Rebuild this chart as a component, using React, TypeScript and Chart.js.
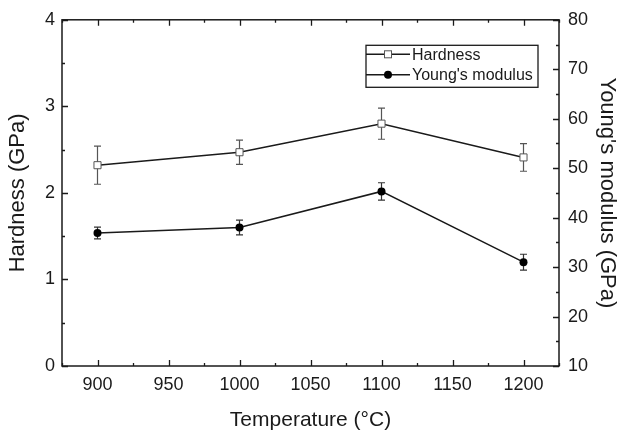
import React, { useEffect, useRef } from "react";
import { Chart, registerables } from "chart.js";

Chart.register(...registerables);

const temperatures = [900, 1000, 1100, 1200];
const hardness = [2.32, 2.47, 2.8, 2.41];
const hardnessErr = [0.22, 0.14, 0.18, 0.16];
const modulus = [36.9, 38.0, 45.3, 31.0];
const modulusErr = [1.2, 1.5, 1.75, 1.6];

const xTicks = [900, 950, 1000, 1050, 1100, 1150, 1200];
const xMinorTicks = [875, 925, 975, 1025, 1075, 1125, 1175, 1225];
const leftTicks = [0, 1, 2, 3, 4];
const leftMinorTicks = [0.5, 1.5, 2.5, 3.5];
const rightTicks = [10, 20, 30, 40, 50, 60, 70, 80];
const rightMinorTicks = [15, 25, 35, 45, 55, 65, 75];

const seriesLabels = ["Hardness", "Young's modulus"];
const FONT = "'Liberation Sans', Arial, Helvetica, sans-serif";
const INK = "#1a1a1a";

const framePlugin = {
  id: "frameTicks",
  afterDatasetsDraw(chart: any) {
    const { ctx, chartArea, scales } = chart;
    const { left, right, top, bottom } = chartArea;
    ctx.save();
    ctx.strokeStyle = INK;
    ctx.lineWidth = 1.5;
    ctx.strokeRect(left, top, right - left, bottom - top);
    ctx.lineWidth = 1.3;
    const major = 6;
    const minor = 3;
    ctx.beginPath();
    const xs = scales.x;
    xTicks.forEach((v) => {
      const px = Math.round(xs.getPixelForValue(v)) + 0.5;
      ctx.moveTo(px, bottom); ctx.lineTo(px, bottom - major);
      ctx.moveTo(px, top); ctx.lineTo(px, top + major);
    });
    xMinorTicks.forEach((v) => {
      const px = Math.round(xs.getPixelForValue(v)) + 0.5;
      ctx.moveTo(px, bottom); ctx.lineTo(px, bottom - minor);
      ctx.moveTo(px, top); ctx.lineTo(px, top + minor);
    });
    const yl = scales.y;
    leftTicks.forEach((v) => {
      const py = Math.round(yl.getPixelForValue(v)) + 0.5;
      ctx.moveTo(left, py); ctx.lineTo(left + major, py);
    });
    leftMinorTicks.forEach((v) => {
      const py = Math.round(yl.getPixelForValue(v)) + 0.5;
      ctx.moveTo(left, py); ctx.lineTo(left + minor, py);
    });
    const yr = scales.y1;
    rightTicks.forEach((v) => {
      const py = Math.round(yr.getPixelForValue(v)) + 0.5;
      ctx.moveTo(right, py); ctx.lineTo(right - major, py);
    });
    rightMinorTicks.forEach((v) => {
      const py = Math.round(yr.getPixelForValue(v)) + 0.5;
      ctx.moveTo(right, py); ctx.lineTo(right - minor, py);
    });
    ctx.stroke();
    ctx.restore();
  },
};

const errorBarPlugin = {
  id: "errorBars",
  beforeDatasetsDraw(chart: any) {
    const { ctx, scales } = chart;
    const sets = [
      { vals: hardness, errs: hardnessErr, scale: scales.y, color: "#555" },
      { vals: modulus, errs: modulusErr, scale: scales.y1, color: "#333" },
    ];
    ctx.save();
    ctx.lineWidth = 1.2;
    sets.forEach((s) => {
      ctx.strokeStyle = s.color;
      ctx.beginPath();
      temperatures.forEach((t, i) => {
        const x = scales.x.getPixelForValue(t);
        const yTop = s.scale.getPixelForValue(s.vals[i] + s.errs[i]);
        const yBot = s.scale.getPixelForValue(s.vals[i] - s.errs[i]);
        ctx.moveTo(x, yTop); ctx.lineTo(x, yBot);
        ctx.moveTo(x - 3.5, yTop); ctx.lineTo(x + 3.5, yTop);
        ctx.moveTo(x - 3.5, yBot); ctx.lineTo(x + 3.5, yBot);
      });
      ctx.stroke();
    });
    ctx.restore();
  },
};

const legendPlugin = {
  id: "customLegend",
  afterDraw(chart: any) {
    const { ctx, chartArea } = chart;
    const bx = chartArea.right - 193;
    const by = chartArea.top + 25.5;
    const bw = 172;
    const bh = 42;
    ctx.save();
    ctx.fillStyle = "#fff";
    ctx.fillRect(bx, by, bw, bh);
    ctx.strokeStyle = INK;
    ctx.lineWidth = 1.3;
    ctx.strokeRect(bx, by, bw, bh);
    ctx.font = `16px ${FONT}`;
    ctx.textBaseline = "middle";
    ctx.textAlign = "left";
    seriesLabels.forEach((label, i) => {
      const ry = by + 9 + i * 20.5;
      ctx.strokeStyle = INK;
      ctx.lineWidth = 1.4;
      ctx.beginPath();
      ctx.moveTo(bx, ry);
      ctx.lineTo(bx + 44, ry);
      ctx.stroke();
      const mx = bx + 22;
      if (i === 0) {
        ctx.fillStyle = "#fff";
        ctx.fillRect(mx - 3.5, ry - 3.5, 7, 7);
        ctx.strokeStyle = "#555";
        ctx.lineWidth = 1;
        ctx.strokeRect(mx - 3.5, ry - 3.5, 7, 7);
      } else {
        ctx.fillStyle = "#000";
        ctx.beginPath();
        ctx.arc(mx, ry, 4, 0, Math.PI * 2);
        ctx.fill();
      }
      ctx.fillStyle = INK;
      ctx.fillText(label, bx + 46, ry + 1);
    });
    ctx.restore();
  },
};

export default function App() {
  const canvasRef = useRef<HTMLCanvasElement | null>(null);

  useEffect(() => {
    document.body.style.margin = "0";
    const canvas = canvasRef.current;
    if (!canvas) return;
    const tickFont = { family: FONT, size: 18 };
    const plain = (v: any) => String(v);
    const chart = new Chart(canvas, {
      type: "line",
      data: {
        datasets: [
          {
            label: seriesLabels[0],
            data: temperatures.map((t, i) => ({ x: t, y: hardness[i] })),
            yAxisID: "y",
            borderColor: INK,
            borderWidth: 1.5,
            pointStyle: "rect",
            pointRadius: 5,
            pointBackgroundColor: "#fff",
            pointBorderColor: "#555",
            pointBorderWidth: 1,
            tension: 0,
          },
          {
            label: seriesLabels[1],
            data: temperatures.map((t, i) => ({ x: t, y: modulus[i] })),
            yAxisID: "y1",
            borderColor: INK,
            borderWidth: 1.5,
            pointStyle: "circle",
            pointRadius: 4,
            pointBackgroundColor: "#000",
            pointBorderColor: "#000",
            pointBorderWidth: 0,
            tension: 0,
          },
        ],
      },
      options: {
        responsive: false,
        animation: false,
        layout: { padding: { top: 16, left: 0, right: 0, bottom: 0 } },
        plugins: {
          legend: { display: false },
          tooltip: { enabled: false },
        },
        scales: {
          x: {
            type: "linear",
            position: "bottom",
            min: 875,
            max: 1225,
            grid: { display: false, drawTicks: false },
            border: { display: false },
            afterBuildTicks: (s: any) => {
              s.ticks = xTicks.map((v) => ({ value: v }));
            },
            afterFit: (s: any) => {
              s.height = 67;
            },
            ticks: { font: tickFont, color: INK, padding: 8, maxRotation: 0, callback: plain },
            title: {
              display: true,
              text: "Temperature (°C)",
              font: { family: FONT, size: 21, lineHeight: 1 },
              color: INK,
              padding: { top: 0, bottom: 2.5 },
            },
          },
          y: {
            type: "linear",
            position: "left",
            min: 0,
            max: 4,
            grid: { display: false, drawTicks: false },
            border: { display: false },
            afterBuildTicks: (s: any) => {
              s.ticks = leftTicks.map((v) => ({ value: v }));
            },
            afterFit: (s: any) => {
              s.width = 62;
            },
            ticks: { font: tickFont, color: INK, padding: 7, callback: plain },
            title: {
              display: true,
              text: "Hardness (GPa)",
              font: { family: FONT, size: 22, lineHeight: 1 },
              color: INK,
              padding: { top: 7, bottom: 0 },
            },
          },
          y1: {
            type: "linear",
            position: "right",
            min: 10,
            max: 80,
            grid: { display: false, drawTicks: false },
            border: { display: false },
            afterBuildTicks: (s: any) => {
              s.ticks = rightTicks.map((v) => ({ value: v }));
            },
            afterFit: (s: any) => {
              s.width = 59;
            },
            ticks: { font: tickFont, color: INK, padding: 9, callback: plain },
            title: {
              display: true,
              text: "Young's modulus (GPa)",
              font: { family: FONT, size: 22, lineHeight: 1 },
              color: INK,
              padding: { top: 0, bottom: 0 },
            },
          },
        },
      },
      plugins: [errorBarPlugin, framePlugin, legendPlugin],
    } as any);
    return () => chart.destroy();
  }, []);

  return (
    <div style={{ position: "absolute", left: 0, top: 0, width: 618, height: 433, background: "#fff" }}>
      <canvas ref={canvasRef} width={618} height={433} />
    </div>
  );
}
